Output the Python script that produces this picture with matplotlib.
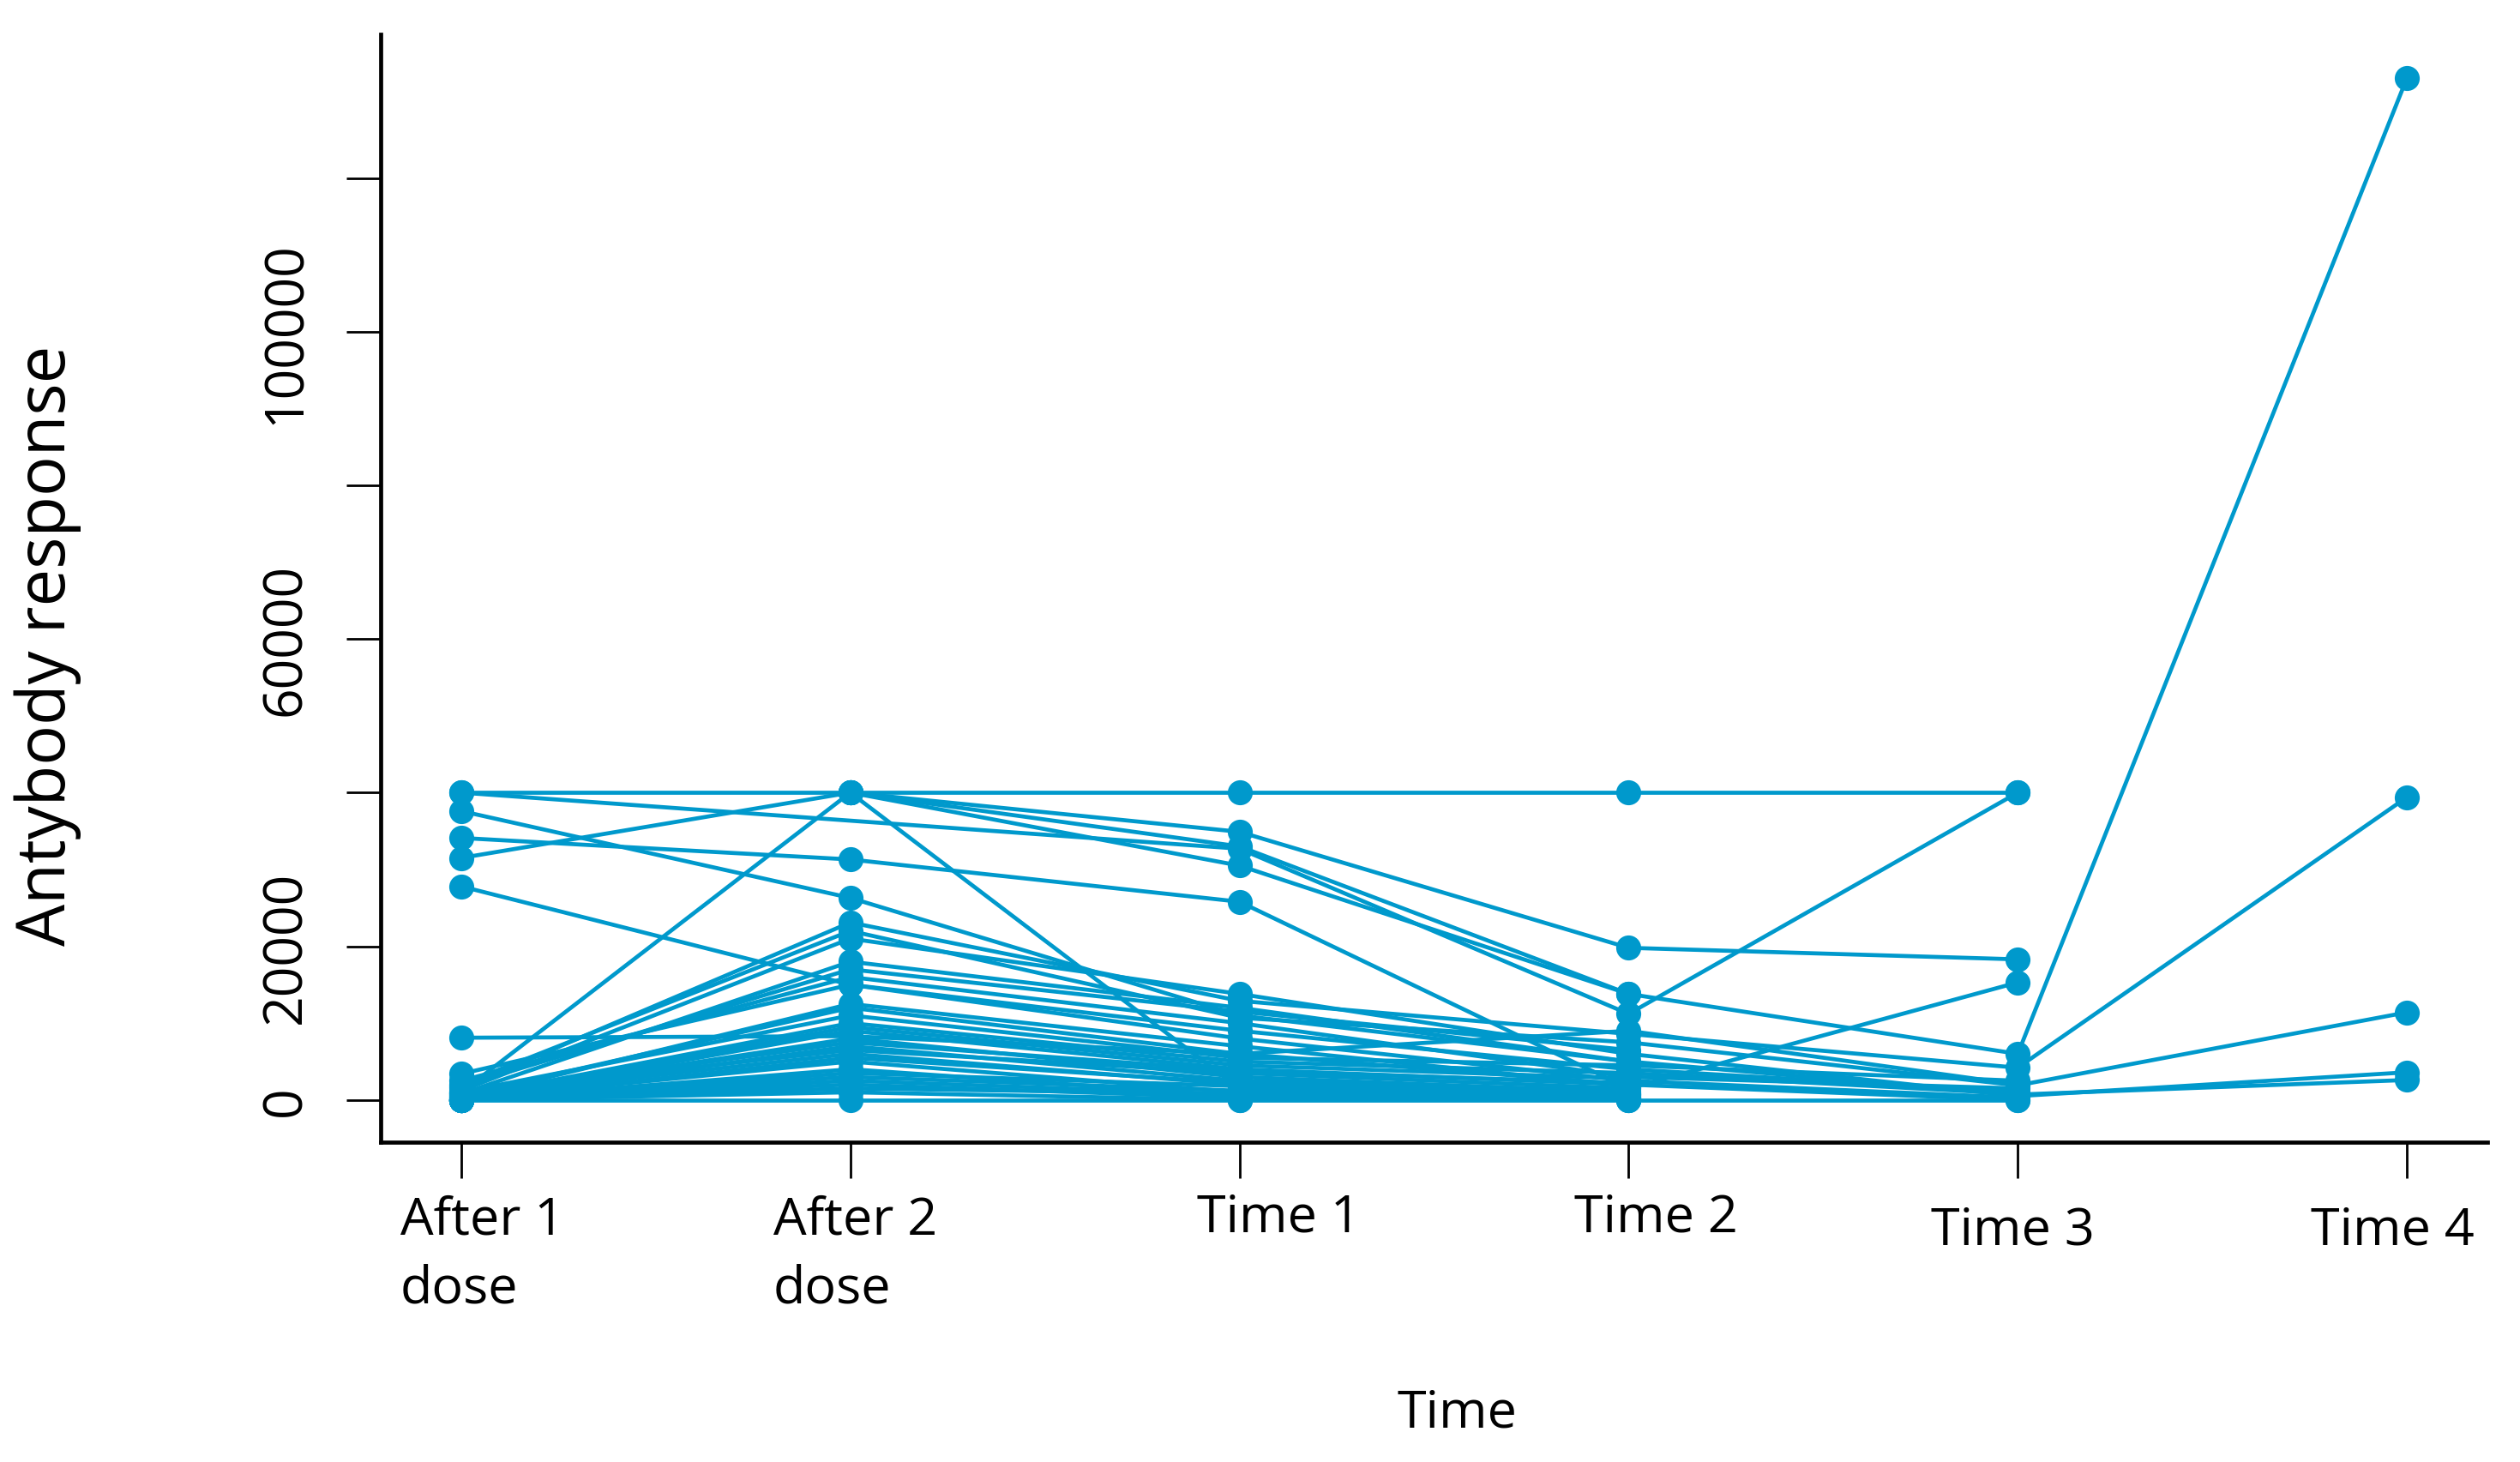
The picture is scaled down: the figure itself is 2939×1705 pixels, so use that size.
import matplotlib
matplotlib.use("Agg")
import matplotlib.pyplot as plt
import matplotlib.transforms as mtransforms
import numpy as np

nan = np.nan

# Time points
time_labels = ["After 1\ndose", "After 2\ndose", "Time 1", "Time 2", "Time 3", "Time 4"]

# Antibody response per subject, one list per time point (nan = not measured)
after_1_dose = [40000, 40000, 37600, 34100, 31500, 27800, 8100, 1000, nan, nan,
                1500, 2000, 1200, 800, 2500, 3400, 600, 300, 0, 200,
                0, 400, 100, 0, 0, 0, 0, 0, 200, 0,
                900, 0, 1800, 0, 0, 1000, 500, 0]
after_2_dose = [40000, nan, 26300, 31300, 40000, 15000, 8300, 40000, 40000, 40000,
                23100, 22000, 21000, 18000, 16000, 15000, 12000, 10000, 9000, 8000,
                7000, 6000, 5000, 4000, 3000, 2000, 1000, 0, 12500, 9500,
                6500, 5500, 17000, 3500, 1500, 11000, 7500, 2500]
time_1 = [40000, 32700, 11000, 25800, 34900, 9000, 6000, 1500, 33000, 30500,
          12900, 10700, 13800, 12000, 10000, 8000, 6000, 5000, 4000, 3000,
          2500, 2000, 1000, 500, 1200, 300, 0, 0, 7000, 4500,
          3500, 2200, 11500, 1800, 800, 5500, 3800, 700]
time_2 = [40000, 11200, 5000, 1500, 19800, 4000, 2000, 800, 13800, 13800,
          8600, 7500, 6000, 5000, 3000, 2500, 9000, 3500, 2000, 1000,
          1200, 600, 300, 0, 400, 200, 0, 0, 1800, 2800,
          1500, 900, 6500, 700, 100, 4500, 2200, 300]
time_3 = [40000, 40000, nan, 15300, 18300, 1000, nan, nan, 6000, nan,
          4200, 1900, 500, 700, 1500, 300, 2000, 800, 0, nan,
          nan, nan, nan, nan, nan, nan, nan, 0, nan, nan,
          nan, nan, nan, nan, nan, 2500, nan, nan]
time_4 = [nan, nan, nan, nan, nan, nan, nan, nan, 133000, nan,
          39400, 11400, 3600, 2600, nan, nan, nan, nan, nan, nan,
          nan, nan, nan, nan, nan, nan, nan, nan, nan, nan,
          nan, nan, nan, nan, nan, nan, nan, nan]

y_ticks = [0, 20000, 40000, 60000, 80000, 100000, 120000]
y_tick_labels = ["0", "20000", "", "60000", "", "100000", ""]

# Style
line_color = "#0099cc"
plt.rcParams["font.family"] = ["Open Sans", "DejaVu Sans"]

fig = plt.figure(figsize=(29.39, 17.06), dpi=100)
ax = fig.add_axes([0.1511, 0.2186, 0.8360, 0.7574])

series = np.array([after_1_dose, after_2_dose, time_1, time_2, time_3, time_4], dtype=float)
x = np.arange(len(time_labels))

# one line per subject, missing values skipped
for subject in series.T:
    ok = ~np.isnan(subject)
    ax.plot(x[ok], subject[ok], "-o", color=line_color, lw=3.4, ms=21,
            markeredgewidth=0, solid_capstyle="butt")

ax.set_xlim(-0.2066, 5.207)
ax.set_ylim(-5500, 138700)

ax.spines["top"].set_visible(False)
ax.spines["right"].set_visible(False)
ax.spines["left"].set_linewidth(3.4)
ax.spines["bottom"].set_linewidth(3.4)

ax.set_yticks(y_ticks)
ax.set_yticklabels(y_tick_labels, rotation=90, va="center", fontsize=45)
ax.tick_params(axis="y", length=29, width=2, pad=28)

ax.set_xticks(x)
ax.set_xticklabels([])
ax.tick_params(axis="x", length=30, width=2)

# tick labels sit a bit off their ticks in the original
label_dx = [-0.157, -0.198, 0.10, 0.07, -0.012, -0.037]
label_ha = ["left", "left", "center", "center", "center", "center"]
label_y = [1394, 1394, 1421, 1421, 1436, 1436]
trans = mtransforms.blended_transform_factory(ax.transData, fig.transFigure)
for i, lab in enumerate(time_labels):
    ax.text(x[i] + label_dx[i], 1 - label_y[i] / 1706, lab, transform=trans,
            ha=label_ha[i], va="top" if "\n" in lab else "center",
            fontsize=44, linespacing=1.42)

fig.text(1700 / 2939, 1 - 1649 / 1706, "Time", ha="center", va="center", fontsize=44)
fig.text(56 / 2939, 1 - 753 / 1706, "Antybody response", ha="center", va="center",
         rotation=90, fontsize=56)

fig.savefig("out.png", dpi=100, facecolor="white")
